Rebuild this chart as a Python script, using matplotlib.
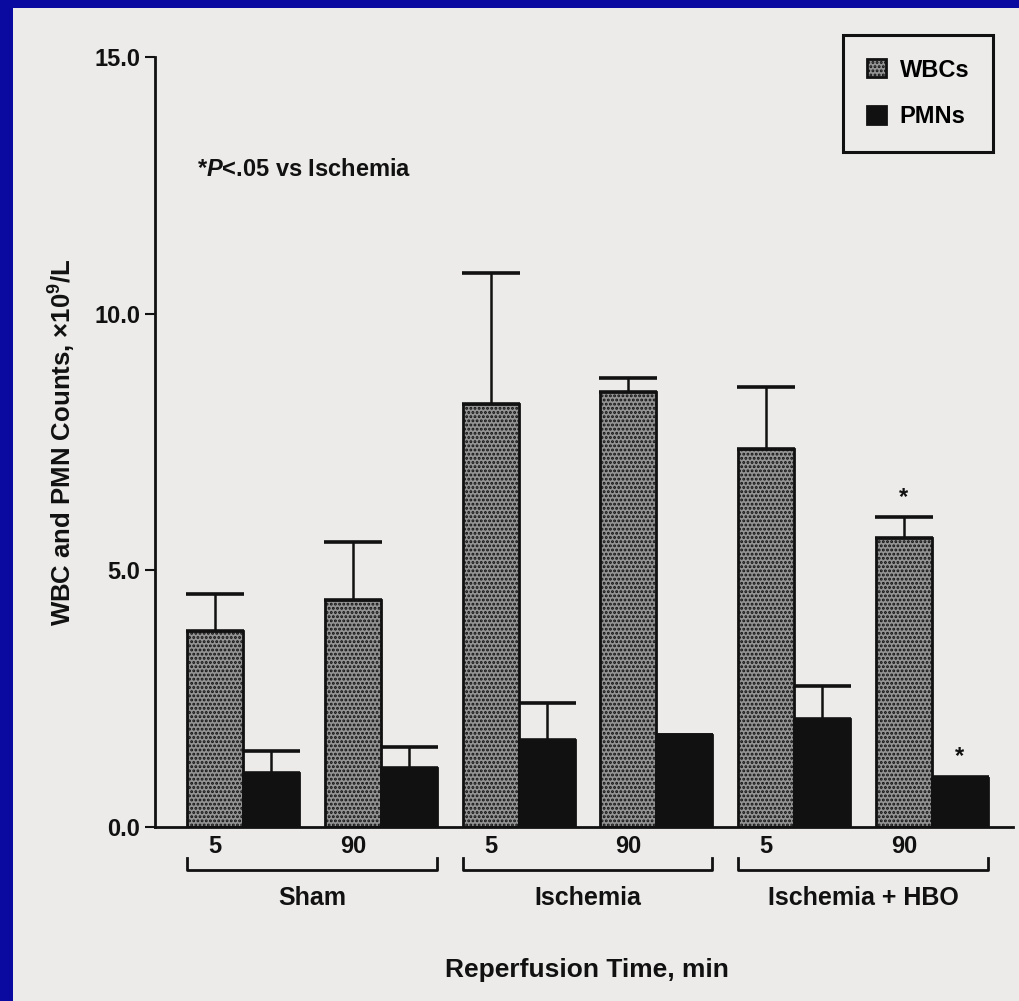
import matplotlib
matplotlib.use("Agg")
import matplotlib.pyplot as plt
from matplotlib.patches import Rectangle
import numpy as np

# ---------------- data ----------------
groups = ["Sham", "Ischemia", "Ischemia + HBO"]
times = ["5", "90", "5", "90", "5", "90"]
wbc = [3.82, 4.42, 8.25, 8.48, 7.36, 5.63]
wbc_err = [0.72, 1.13, 2.54, 0.27, 1.21, 0.41]
pmn = [1.05, 1.15, 1.69, 1.79, 2.10, 0.95]
pmn_err = [0.43, 0.41, 0.72, 0.0, 0.64, 0.03]
significant_90_hbo = [False, False, False, False, False, True]
yticks = [0.0, 5.0, 10.0, 15.0]

FONT = ["Liberation Sans Narrow", "Liberation Sans", "DejaVu Sans"]
plt.rcParams["font.family"] = FONT
plt.rcParams["font.weight"] = "bold"
plt.rcParams["mathtext.fontset"] = "custom"
plt.rcParams["mathtext.rm"] = "Liberation Sans:bold"
plt.rcParams["mathtext.it"] = "Liberation Sans:bold:italic"
plt.rcParams["mathtext.bf"] = "Liberation Sans:bold"
plt.rcParams["hatch.linewidth"] = 1.4

PAPER = "#ecebe9"
BLUE = "#0a0aa0"
INK = "#111111"

fig = plt.figure(figsize=(10.2, 10.01), dpi=100)
fig.patch.set_facecolor(BLUE)
paper = Rectangle((13 / 1020, 0), 1, 1 - 8 / 1001, transform=fig.transFigure,
                  facecolor=PAPER, edgecolor="none", zorder=-10)
fig.patches.append(paper)

ax = fig.add_axes([155 / 1020, (1001 - 827) / 1001, (1013 - 155) / 1020, 770 / 1001])
ax.set_facecolor("none")
ax.set_zorder(1)

w = 0.406
x = np.arange(len(times))
xw = x
xp = x + w

bw = ax.bar(xw, wbc, width=w, facecolor="#949494", edgecolor=INK, linewidth=2,
            hatch="....", label="WBCs", zorder=2)
bp = ax.bar(xp, pmn, width=w, facecolor=INK, edgecolor=INK, linewidth=2,
            label="PMNs", zorder=2)

ekw = dict(fmt="none", ecolor=INK, elinewidth=1.8, capsize=21, capthick=2.6, zorder=1)
ax.errorbar(xw, wbc, yerr=[np.zeros(len(wbc)), wbc_err], **ekw)
ax.errorbar(xp, pmn, yerr=[np.zeros(len(pmn)), pmn_err], **ekw)

# asterisks
for i, s in enumerate(significant_90_hbo):
    if s:
        ax.annotate("*", (xw[i], wbc[i] + wbc_err[i]), xytext=(0, 6), textcoords="offset points",
                    ha="center", va="bottom", fontsize=17, color=INK)
        ax.annotate("*", (xp[i], pmn[i] + pmn_err[i]), xytext=(0, 6), textcoords="offset points",
                    ha="center", va="bottom", fontsize=17, color=INK)

ax.set_ylim(0, 15)
ax.set_xlim((155 - 215) / 137.8, (1013 - 215) / 137.8)

for sp in ["top", "right"]:
    ax.spines[sp].set_visible(False)
ax.spines["left"].set_linewidth(2)
ax.spines["bottom"].set_linewidth(2)
ax.spines["left"].set_color(INK)
ax.spines["bottom"].set_color(INK)

ax.set_yticks(yticks)
ax.set_yticklabels([f"{v:.1f}" for v in yticks], fontsize=17, fontweight="bold")
ax.tick_params(axis="y", length=7.5, width=1.5, pad=3, colors=INK)
ax.set_xticks(xw)
ax.set_xticklabels(times, fontsize=17, fontweight="bold")
ax.tick_params(axis="x", length=0, pad=6, colors=INK)

ax.set_ylabel(r"WBC and PMN Counts, $\times$10$^{9}$/L", fontsize=18.5, fontweight="bold", color=INK)
ax.yaxis.set_label_coords((78 - 155) / 858, 0.50)

ax.set_xlabel("Reperfusion Time, min", fontsize=19, fontweight="bold", color=INK)
ax.xaxis.set_label_coords((587 - 155) / 858, (827 - 970) / 770)
ax.xaxis.label.set_va("center")

# group brackets
tr = ax.get_xaxis_transform()
yb = (827 - 870) / 770
yu = (827 - 858) / 770
for g, name in enumerate(groups):
    x0 = xw[2 * g] - w / 2
    x1 = xp[2 * g + 1] + w / 2
    ax.plot([x0, x0, x1, x1], [yu, yb, yb, yu], color=INK, lw=2, transform=tr, clip_on=False)
    ax.text((x0 + x1) / 2, (827 - 898) / 770, name, transform=tr, ha="center", va="center",
            fontsize=18, fontweight="bold", color=INK)

ax.text((197 - 155) / 858, (827 - 170) / 770, r"*$\mathit{P}$<.05 vs Ischemia", transform=ax.transAxes,
        ha="left", va="center", fontsize=17, fontweight="bold", color=INK)

leg = ax.legend(handles=[bw, bp], loc="upper right", bbox_to_anchor=(993 / 1020, 1 - 35 / 1001),
                bbox_transform=fig.transFigure, borderaxespad=0, fontsize=17, frameon=True,
                fancybox=False, edgecolor=INK, facecolor=PAPER, framealpha=1,
                handlelength=0.8, handleheight=0.8, handletextpad=0.6, labelspacing=1.0,
                borderpad=1.0)
leg.get_frame().set_linewidth(2.2)

fig.savefig("out.png", dpi=100, facecolor=fig.get_facecolor())
